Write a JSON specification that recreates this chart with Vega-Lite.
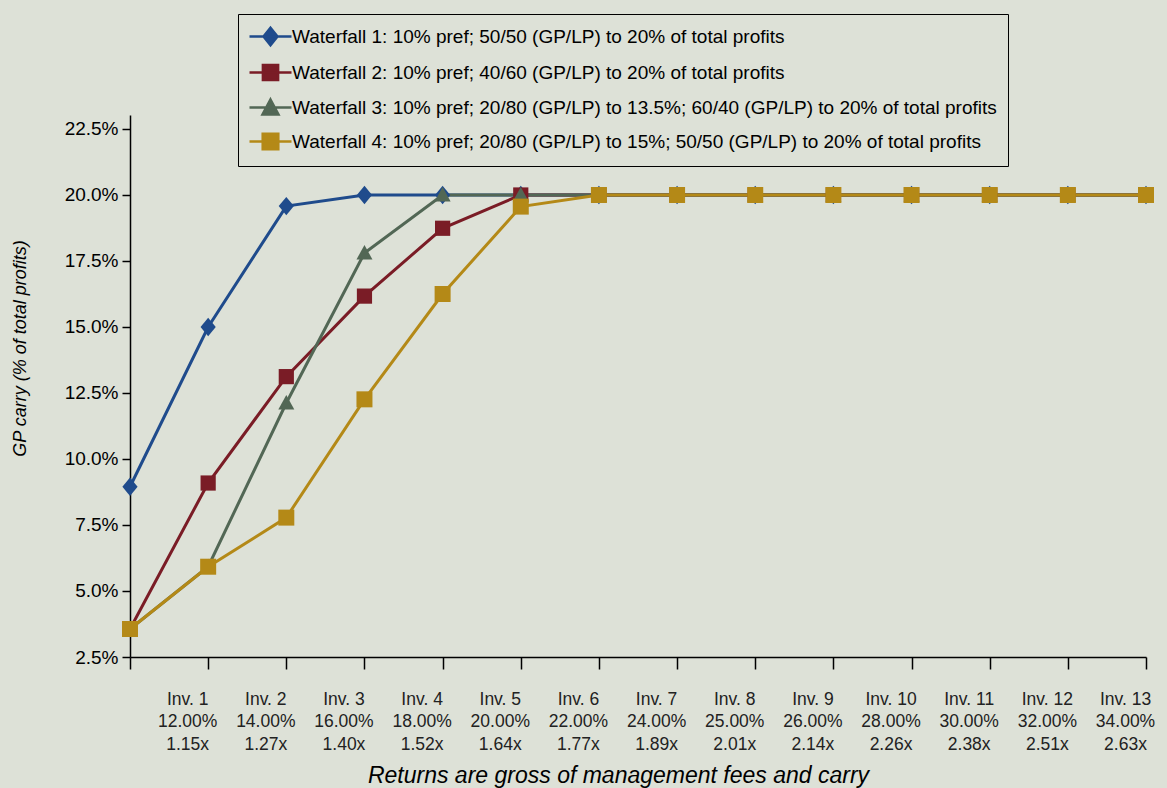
{
  "$schema": "https://vega.github.io/schema/vega-lite/v6.json",
  "width": 1016,
  "height": 542,
  "autosize": {"type": "none"},
  "padding": {"left": 130, "top": 115, "right": 21, "bottom": 131},
  "background": "#DDE1D7",
  "config": {
    "view": {"stroke": null},
    "font": "Liberation Sans"
  },
  "data": {
    "values": [
      {"series": "Waterfall 1: 10% pref; 50/50 (GP/LP) to 20% of total profits", "period": "", "carry": 8.95},
      {"series": "Waterfall 1: 10% pref; 50/50 (GP/LP) to 20% of total profits", "period": "Inv. 1|12.00%|1.15x", "carry": 15.0},
      {"series": "Waterfall 1: 10% pref; 50/50 (GP/LP) to 20% of total profits", "period": "Inv. 2|14.00%|1.27x", "carry": 19.58},
      {"series": "Waterfall 1: 10% pref; 50/50 (GP/LP) to 20% of total profits", "period": "Inv. 3|16.00%|1.40x", "carry": 20.0},
      {"series": "Waterfall 1: 10% pref; 50/50 (GP/LP) to 20% of total profits", "period": "Inv. 4|18.00%|1.52x", "carry": 20.0},
      {"series": "Waterfall 1: 10% pref; 50/50 (GP/LP) to 20% of total profits", "period": "Inv. 5|20.00%|1.64x", "carry": 20.0},
      {"series": "Waterfall 1: 10% pref; 50/50 (GP/LP) to 20% of total profits", "period": "Inv. 6|22.00%|1.77x", "carry": 20.0},
      {"series": "Waterfall 1: 10% pref; 50/50 (GP/LP) to 20% of total profits", "period": "Inv. 7|24.00%|1.89x", "carry": 20.0},
      {"series": "Waterfall 1: 10% pref; 50/50 (GP/LP) to 20% of total profits", "period": "Inv. 8|25.00%|2.01x", "carry": 20.0},
      {"series": "Waterfall 1: 10% pref; 50/50 (GP/LP) to 20% of total profits", "period": "Inv. 9|26.00%|2.14x", "carry": 20.0},
      {"series": "Waterfall 1: 10% pref; 50/50 (GP/LP) to 20% of total profits", "period": "Inv. 10|28.00%|2.26x", "carry": 20.0},
      {"series": "Waterfall 1: 10% pref; 50/50 (GP/LP) to 20% of total profits", "period": "Inv. 11|30.00%|2.38x", "carry": 20.0},
      {"series": "Waterfall 1: 10% pref; 50/50 (GP/LP) to 20% of total profits", "period": "Inv. 12|32.00%|2.51x", "carry": 20.0},
      {"series": "Waterfall 1: 10% pref; 50/50 (GP/LP) to 20% of total profits", "period": "Inv. 13|34.00%|2.63x", "carry": 20.0},
      {"series": "Waterfall 2: 10% pref; 40/60 (GP/LP) to 20% of total profits", "period": "", "carry": 3.56},
      {"series": "Waterfall 2: 10% pref; 40/60 (GP/LP) to 20% of total profits", "period": "Inv. 1|12.00%|1.15x", "carry": 9.09},
      {"series": "Waterfall 2: 10% pref; 40/60 (GP/LP) to 20% of total profits", "period": "Inv. 2|14.00%|1.27x", "carry": 13.12},
      {"series": "Waterfall 2: 10% pref; 40/60 (GP/LP) to 20% of total profits", "period": "Inv. 3|16.00%|1.40x", "carry": 16.17},
      {"series": "Waterfall 2: 10% pref; 40/60 (GP/LP) to 20% of total profits", "period": "Inv. 4|18.00%|1.52x", "carry": 18.74},
      {"series": "Waterfall 2: 10% pref; 40/60 (GP/LP) to 20% of total profits", "period": "Inv. 5|20.00%|1.64x", "carry": 20.0},
      {"series": "Waterfall 2: 10% pref; 40/60 (GP/LP) to 20% of total profits", "period": "Inv. 6|22.00%|1.77x", "carry": 20.0},
      {"series": "Waterfall 2: 10% pref; 40/60 (GP/LP) to 20% of total profits", "period": "Inv. 7|24.00%|1.89x", "carry": 20.0},
      {"series": "Waterfall 2: 10% pref; 40/60 (GP/LP) to 20% of total profits", "period": "Inv. 8|25.00%|2.01x", "carry": 20.0},
      {"series": "Waterfall 2: 10% pref; 40/60 (GP/LP) to 20% of total profits", "period": "Inv. 9|26.00%|2.14x", "carry": 20.0},
      {"series": "Waterfall 2: 10% pref; 40/60 (GP/LP) to 20% of total profits", "period": "Inv. 10|28.00%|2.26x", "carry": 20.0},
      {"series": "Waterfall 2: 10% pref; 40/60 (GP/LP) to 20% of total profits", "period": "Inv. 11|30.00%|2.38x", "carry": 20.0},
      {"series": "Waterfall 2: 10% pref; 40/60 (GP/LP) to 20% of total profits", "period": "Inv. 12|32.00%|2.51x", "carry": 20.0},
      {"series": "Waterfall 2: 10% pref; 40/60 (GP/LP) to 20% of total profits", "period": "Inv. 13|34.00%|2.63x", "carry": 20.0},
      {"series": "Waterfall 3: 10% pref; 20/80 (GP/LP) to 13.5%; 60/40 (GP/LP) to 20% of total profits", "period": "", "carry": 3.56},
      {"series": "Waterfall 3: 10% pref; 20/80 (GP/LP) to 13.5%; 60/40 (GP/LP) to 20% of total profits", "period": "Inv. 1|12.00%|1.15x", "carry": 5.92},
      {"series": "Waterfall 3: 10% pref; 20/80 (GP/LP) to 13.5%; 60/40 (GP/LP) to 20% of total profits", "period": "Inv. 2|14.00%|1.27x", "carry": 12.12},
      {"series": "Waterfall 3: 10% pref; 20/80 (GP/LP) to 13.5%; 60/40 (GP/LP) to 20% of total profits", "period": "Inv. 3|16.00%|1.40x", "carry": 17.8},
      {"series": "Waterfall 3: 10% pref; 20/80 (GP/LP) to 13.5%; 60/40 (GP/LP) to 20% of total profits", "period": "Inv. 4|18.00%|1.52x", "carry": 20.0},
      {"series": "Waterfall 3: 10% pref; 20/80 (GP/LP) to 13.5%; 60/40 (GP/LP) to 20% of total profits", "period": "Inv. 5|20.00%|1.64x", "carry": 20.0},
      {"series": "Waterfall 3: 10% pref; 20/80 (GP/LP) to 13.5%; 60/40 (GP/LP) to 20% of total profits", "period": "Inv. 6|22.00%|1.77x", "carry": 20.0},
      {"series": "Waterfall 3: 10% pref; 20/80 (GP/LP) to 13.5%; 60/40 (GP/LP) to 20% of total profits", "period": "Inv. 7|24.00%|1.89x", "carry": 20.0},
      {"series": "Waterfall 3: 10% pref; 20/80 (GP/LP) to 13.5%; 60/40 (GP/LP) to 20% of total profits", "period": "Inv. 8|25.00%|2.01x", "carry": 20.0},
      {"series": "Waterfall 3: 10% pref; 20/80 (GP/LP) to 13.5%; 60/40 (GP/LP) to 20% of total profits", "period": "Inv. 9|26.00%|2.14x", "carry": 20.0},
      {"series": "Waterfall 3: 10% pref; 20/80 (GP/LP) to 13.5%; 60/40 (GP/LP) to 20% of total profits", "period": "Inv. 10|28.00%|2.26x", "carry": 20.0},
      {"series": "Waterfall 3: 10% pref; 20/80 (GP/LP) to 13.5%; 60/40 (GP/LP) to 20% of total profits", "period": "Inv. 11|30.00%|2.38x", "carry": 20.0},
      {"series": "Waterfall 3: 10% pref; 20/80 (GP/LP) to 13.5%; 60/40 (GP/LP) to 20% of total profits", "period": "Inv. 12|32.00%|2.51x", "carry": 20.0},
      {"series": "Waterfall 3: 10% pref; 20/80 (GP/LP) to 13.5%; 60/40 (GP/LP) to 20% of total profits", "period": "Inv. 13|34.00%|2.63x", "carry": 20.0},
      {"series": "Waterfall 4: 10% pref; 20/80 (GP/LP) to 15%; 50/50 (GP/LP) to 20% of total profits", "period": "", "carry": 3.56},
      {"series": "Waterfall 4: 10% pref; 20/80 (GP/LP) to 15%; 50/50 (GP/LP) to 20% of total profits", "period": "Inv. 1|12.00%|1.15x", "carry": 5.92},
      {"series": "Waterfall 4: 10% pref; 20/80 (GP/LP) to 15%; 50/50 (GP/LP) to 20% of total profits", "period": "Inv. 2|14.00%|1.27x", "carry": 7.78},
      {"series": "Waterfall 4: 10% pref; 20/80 (GP/LP) to 15%; 50/50 (GP/LP) to 20% of total profits", "period": "Inv. 3|16.00%|1.40x", "carry": 12.26},
      {"series": "Waterfall 4: 10% pref; 20/80 (GP/LP) to 15%; 50/50 (GP/LP) to 20% of total profits", "period": "Inv. 4|18.00%|1.52x", "carry": 16.25},
      {"series": "Waterfall 4: 10% pref; 20/80 (GP/LP) to 15%; 50/50 (GP/LP) to 20% of total profits", "period": "Inv. 5|20.00%|1.64x", "carry": 19.56},
      {"series": "Waterfall 4: 10% pref; 20/80 (GP/LP) to 15%; 50/50 (GP/LP) to 20% of total profits", "period": "Inv. 6|22.00%|1.77x", "carry": 20.0},
      {"series": "Waterfall 4: 10% pref; 20/80 (GP/LP) to 15%; 50/50 (GP/LP) to 20% of total profits", "period": "Inv. 7|24.00%|1.89x", "carry": 20.0},
      {"series": "Waterfall 4: 10% pref; 20/80 (GP/LP) to 15%; 50/50 (GP/LP) to 20% of total profits", "period": "Inv. 8|25.00%|2.01x", "carry": 20.0},
      {"series": "Waterfall 4: 10% pref; 20/80 (GP/LP) to 15%; 50/50 (GP/LP) to 20% of total profits", "period": "Inv. 9|26.00%|2.14x", "carry": 20.0},
      {"series": "Waterfall 4: 10% pref; 20/80 (GP/LP) to 15%; 50/50 (GP/LP) to 20% of total profits", "period": "Inv. 10|28.00%|2.26x", "carry": 20.0},
      {"series": "Waterfall 4: 10% pref; 20/80 (GP/LP) to 15%; 50/50 (GP/LP) to 20% of total profits", "period": "Inv. 11|30.00%|2.38x", "carry": 20.0},
      {"series": "Waterfall 4: 10% pref; 20/80 (GP/LP) to 15%; 50/50 (GP/LP) to 20% of total profits", "period": "Inv. 12|32.00%|2.51x", "carry": 20.0},
      {"series": "Waterfall 4: 10% pref; 20/80 (GP/LP) to 15%; 50/50 (GP/LP) to 20% of total profits", "period": "Inv. 13|34.00%|2.63x", "carry": 20.0}
    ]
  },
  "encoding": {
    "x": {
      "field": "period",
      "type": "ordinal",
      "sort": null,
      "scale": {"type": "point", "padding": 0},
      "axis": {
        "title": "Returns are gross of management fees and carry",
        "titleFont": "Liberation Sans",
        "titleFontStyle": "italic",
        "titleFontWeight": "normal",
        "titleFontSize": 23,
        "titleColor": "#000",
        "titleX": 488,
        "titleY": 125,
        "titleAlign": "center",
        "titleBaseline": "alphabetic",
        "labelExpr": "split(datum.label, '|')",
        "labelAngle": 0,
        "labelOffset": -21,
        "labelFontSize": 17.5,
        "labelLineHeight": 22.7,
        "labelColor": "#222",
        "labelPadding": 21,
        "labelBaseline": "top",
        "tickSize": 12,
        "tickColor": "#000",
        "tickWidth": 1.5,
        "domainColor": "#000",
        "domainWidth": 1.5,
        "grid": false
      }
    },
    "y": {
      "field": "carry",
      "type": "quantitative",
      "scale": {"domain": [2.5, 23.03], "nice": false, "zero": false},
      "axis": {
        "values": [2.5, 5, 7.5, 10, 12.5, 15, 17.5, 20, 22.5],
        "labelExpr": "format(datum.value, '.1f') + '%'",
        "labelFontSize": 19,
        "labelColor": "#000",
        "labelPadding": 4,
        "tickSize": 8,
        "tickColor": "#000",
        "tickWidth": 1.5,
        "domainColor": "#000",
        "domainWidth": 1.5,
        "grid": false,
        "title": "GP carry (% of total profits)",
        "titleFontStyle": "italic",
        "titleFontWeight": "normal",
        "titleFontSize": 18,
        "titleColor": "#000",
        "titleAngle": -90,
        "titleX": -110,
        "titleY": 233,
        "titleAlign": "center",
        "titleBaseline": "middle"
      }
    },
    "color": {
      "field": "series",
      "type": "nominal",
      "scale": {"range": ["#1F4B8C", "#7A1C26", "#526755", "#B48917"]},
      "legend": {
        "title": null,
        "orient": "none",
        "legendX": 108,
        "legendY": -101,
        "padding": 11,
        "symbolOffset": 10,
        "fillColor": "#DDE1D7",
        "strokeColor": "#000",
        "labelFontSize": 19,
        "labelColor": "#000",
        "labelLimit": 900,
        "labelOffset": 10,
        "symbolSize": 400,
        "rowPadding": 8,
        "encode": {
          "symbols": {
            "update": {
              "shape": {"signal": "datum.index === 0 ? 'M-2.1,0L2.1,0M0,-0.88L0.7,0L0,0.88L-0.7,0Z' : datum.index === 1 ? 'M-2.1,0L2.1,0M-0.76,-0.76L0.76,-0.76L0.76,0.76L-0.76,0.76Z' : datum.index === 2 ? 'M-2.1,0L2.1,0M0,-0.8L0.8,0.7L-0.8,0.7Z' : 'M-2.1,0L2.1,0M-0.78,-0.78L0.78,-0.78L0.78,0.78L-0.78,0.78Z'"},
              "fill": {"scale": "color", "field": "value"},
              "stroke": {"scale": "color", "field": "value"},
              "strokeWidth": {"value": 2.5},
              "opacity": {"value": 1},
              "fillOpacity": {"value": 1},
              "size": {"value": 400}
            }
          }
        }
      }
    }
  },
  "layer": [
    {"mark": {"type": "line", "strokeWidth": 3}},
    {
      "mark": {"type": "point", "filled": true, "opacity": 1, "size": 256},
      "encoding": {
        "shape": {
          "field": "series",
          "type": "nominal",
          "legend": null,
          "scale": {"range": [
            "M0,-1.15L0.95,0L0,1.15L-0.95,0Z",
            "M-0.95,-0.95L0.95,-0.95L0.95,0.95L-0.95,0.95Z",
            "M0,-1L1,0.8L-1,0.8Z",
            "M-1,-1L1,-1L1,1L-1,1Z"
          ]}
        }
      }
    }
  ]
}
